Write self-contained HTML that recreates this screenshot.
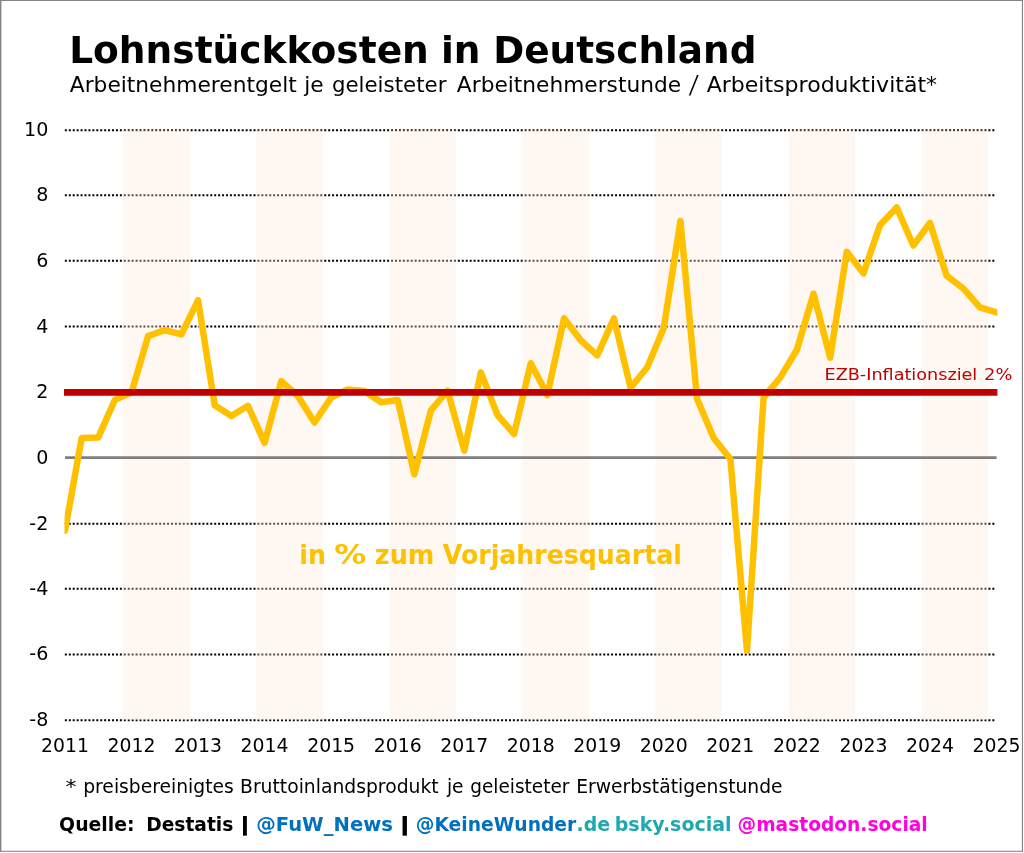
<!DOCTYPE html>
<html lang="de">
<head>
<meta charset="utf-8">
<title>Lohnstückkosten in Deutschland</title>
<style>
html,body{margin:0;padding:0;background:#fff;}
body{width:1024px;height:853px;overflow:hidden;}
svg{display:block;will-change:transform;}
text{font-family:"DejaVu Sans", "Liberation Sans", sans-serif;}
.ax{font-size:18px;fill:#000;}
</style>
</head>
<body>
<svg width="1024" height="853" viewBox="0 0 1024 853">
<rect x="0" y="0" width="1024" height="853" fill="#ffffff"/>
<defs><clipPath id="pc"><rect x="64.5" y="100" width="932.9" height="640"/></clipPath></defs>

<g stroke="#000" stroke-width="2" stroke-dasharray="2 1.93" fill="none">
<line x1="64.85" y1="130.15" x2="996.00" y2="130.15"/>
<line x1="64.85" y1="195.15" x2="996.00" y2="195.15"/>
<line x1="64.85" y1="260.86" x2="996.00" y2="260.86"/>
<line x1="64.85" y1="326.60" x2="996.00" y2="326.60"/>
<line x1="64.85" y1="523.83" x2="996.00" y2="523.83"/>
<line x1="64.85" y1="588.80" x2="996.00" y2="588.80"/>
<line x1="64.85" y1="654.53" x2="996.00" y2="654.53"/>
<line x1="64.85" y1="720.15" x2="996.00" y2="720.15"/>
</g>
<g fill="rgb(255,232,215)" fill-opacity="0.35">
<rect x="123.22" y="130.15" width="66.54" height="590.00"/>
<rect x="256.29" y="130.15" width="66.54" height="590.00"/>
<rect x="389.36" y="130.15" width="66.54" height="590.00"/>
<rect x="522.43" y="130.15" width="66.54" height="590.00"/>
<rect x="655.50" y="130.15" width="66.54" height="590.00"/>
<rect x="788.58" y="130.15" width="66.54" height="590.00"/>
<rect x="921.65" y="130.15" width="66.54" height="590.00"/>
</g>
<line x1="65.00" y1="457.70" x2="996.60" y2="457.70" stroke="#7f7f7f" stroke-width="2.8"/>
<polyline points="65.00,530.70 81.63,438.10 98.27,437.44 114.90,399.91 131.54,392.37 148.17,336.00 164.80,330.10 181.44,334.36 198.07,300.27 214.71,405.16 231.34,415.97 247.97,405.81 264.61,442.85 281.24,381.23 297.88,395.98 314.51,422.53 331.14,397.62 347.78,389.42 364.41,391.06 381.04,402.21 397.68,399.91 414.31,474.32 430.95,410.40 447.58,390.74 464.21,450.72 480.85,372.38 497.48,414.99 514.12,434.00 530.75,363.20 547.38,395.00 564.02,318.30 580.65,340.26 597.29,355.33 613.92,318.30 630.55,387.79 647.19,367.46 663.82,327.80 680.46,220.95 697.09,398.93 713.72,437.94 730.36,458.91 746.99,650.66 763.62,397.29 780.26,377.62 796.89,349.76 813.53,293.71 830.16,357.63 846.79,251.76 863.43,273.39 880.06,224.88 896.70,207.51 913.33,245.53 929.96,222.91 946.60,275.68 963.23,288.47 979.87,307.48 996.50,312.40" fill="none" stroke="#ffc000" stroke-width="6.5" stroke-linejoin="round" stroke-linecap="round" clip-path="url(#pc)"/>
<line x1="64" y1="392.35" x2="997.4" y2="392.35" stroke="#c00000" stroke-width="6.6"/>
<g font-size="19.5" fill="#000">
<text x="24.03" y="136.05" textLength="24.32" lengthAdjust="spacingAndGlyphs">10</text>
<text x="36.19" y="201.05" textLength="12.16" lengthAdjust="spacingAndGlyphs">8</text>
<text x="36.19" y="266.76" textLength="12.16" lengthAdjust="spacingAndGlyphs">6</text>
<text x="36.19" y="332.50" textLength="12.16" lengthAdjust="spacingAndGlyphs">4</text>
<text x="36.19" y="398.25" textLength="12.16" lengthAdjust="spacingAndGlyphs">2</text>
<text x="36.19" y="463.60" textLength="12.16" lengthAdjust="spacingAndGlyphs">0</text>
<text x="29.30" y="529.73" textLength="19.05" lengthAdjust="spacingAndGlyphs">-2</text>
<text x="29.30" y="594.70" textLength="19.05" lengthAdjust="spacingAndGlyphs">-4</text>
<text x="29.30" y="660.43" textLength="19.05" lengthAdjust="spacingAndGlyphs">-6</text>
<text x="29.30" y="726.05" textLength="19.05" lengthAdjust="spacingAndGlyphs">-8</text>
<text x="41.01" y="752" textLength="47.99" lengthAdjust="spacingAndGlyphs">2011</text>
<text x="107.54" y="752" textLength="47.99" lengthAdjust="spacingAndGlyphs">2012</text>
<text x="174.08" y="752" textLength="47.99" lengthAdjust="spacingAndGlyphs">2013</text>
<text x="240.61" y="752" textLength="47.99" lengthAdjust="spacingAndGlyphs">2014</text>
<text x="307.15" y="752" textLength="47.99" lengthAdjust="spacingAndGlyphs">2015</text>
<text x="373.69" y="752" textLength="47.99" lengthAdjust="spacingAndGlyphs">2016</text>
<text x="440.22" y="752" textLength="47.99" lengthAdjust="spacingAndGlyphs">2017</text>
<text x="506.76" y="752" textLength="47.99" lengthAdjust="spacingAndGlyphs">2018</text>
<text x="573.29" y="752" textLength="47.99" lengthAdjust="spacingAndGlyphs">2019</text>
<text x="639.83" y="752" textLength="47.99" lengthAdjust="spacingAndGlyphs">2020</text>
<text x="706.36" y="752" textLength="47.99" lengthAdjust="spacingAndGlyphs">2021</text>
<text x="772.90" y="752" textLength="47.99" lengthAdjust="spacingAndGlyphs">2022</text>
<text x="839.44" y="752" textLength="47.99" lengthAdjust="spacingAndGlyphs">2023</text>
<text x="905.97" y="752" textLength="47.99" lengthAdjust="spacingAndGlyphs">2024</text>
<text x="972.51" y="752" textLength="47.99" lengthAdjust="spacingAndGlyphs">2025</text>
</g>
<text x="69.14" y="62.50" font-size="38" font-weight="bold" fill="#000" textLength="359.73" lengthAdjust="spacingAndGlyphs">Lohnstückkosten</text>
<text x="440.90" y="62.50" font-size="38" font-weight="bold" fill="#000" textLength="39.53" lengthAdjust="spacingAndGlyphs">in</text>
<text x="493.16" y="62.50" font-size="38" font-weight="bold" fill="#000" textLength="263.24" lengthAdjust="spacingAndGlyphs">Deutschland</text>
<text x="69.77" y="92.10" font-size="21.5" fill="#000" textLength="226.97" lengthAdjust="spacingAndGlyphs">Arbeitnehmerentgelt</text>
<text x="304.27" y="92.10" font-size="21.5" fill="#000" textLength="19.43" lengthAdjust="spacingAndGlyphs">je</text>
<text x="331.88" y="92.10" font-size="21.5" fill="#000" textLength="114.53" lengthAdjust="spacingAndGlyphs">geleisteter</text>
<text x="456.87" y="92.10" font-size="21.5" fill="#000" textLength="224.22" lengthAdjust="spacingAndGlyphs">Arbeitnehmerstunde</text>
<text x="706.67" y="92.10" font-size="21.5" fill="#000" textLength="230.43" lengthAdjust="spacingAndGlyphs">Arbeitsproduktivität*</text>
<text font-weight="200" x="688.30" y="93.00" font-size="25" fill="#000" textLength="10.96" lengthAdjust="spacingAndGlyphs">/</text>
<text x="824.55" y="380.40" font-size="16" fill="#c00000" textLength="152.73" lengthAdjust="spacingAndGlyphs">EZB-Inflationsziel</text>
<text x="984.14" y="380.40" font-size="16" fill="#c00000" textLength="28.34" lengthAdjust="spacingAndGlyphs">2%</text>
<text x="299.37" y="563.90" font-size="26.2" font-weight="bold" fill="#ffc000" textLength="26.58" lengthAdjust="spacingAndGlyphs">in</text>
<text x="334.24" y="563.90" font-size="26.2" font-weight="bold" fill="#ffc000" textLength="31.93" lengthAdjust="spacingAndGlyphs">%</text>
<text x="374.81" y="563.90" font-size="26.2" font-weight="bold" fill="#ffc000" textLength="59.60" lengthAdjust="spacingAndGlyphs">zum</text>
<text x="442.78" y="563.90" font-size="26.2" font-weight="bold" fill="#ffc000" textLength="239.11" lengthAdjust="spacingAndGlyphs">Vorjahresquartal</text>
<text x="65.59" y="792.60" font-size="19.2" fill="#000" textLength="10.92" lengthAdjust="spacingAndGlyphs">*</text>
<text x="83.20" y="792.60" font-size="19.2" fill="#000" textLength="150.64" lengthAdjust="spacingAndGlyphs">preisbereinigtes</text>
<text x="240.07" y="792.60" font-size="19.2" fill="#000" textLength="198.55" lengthAdjust="spacingAndGlyphs">Bruttoinlandsprodukt</text>
<text x="446.92" y="792.60" font-size="19.2" fill="#000" textLength="16.69" lengthAdjust="spacingAndGlyphs">je</text>
<text x="470.24" y="792.60" font-size="19.2" fill="#000" textLength="99.23" lengthAdjust="spacingAndGlyphs">geleisteter</text>
<text x="576.28" y="792.60" font-size="19.2" fill="#000" textLength="206.29" lengthAdjust="spacingAndGlyphs">Erwerbstätigenstunde</text>
<text x="59.12" y="831.30" font-size="18.8" font-weight="bold" fill="#000" textLength="75.46" lengthAdjust="spacingAndGlyphs">Quelle:</text>
<text x="146.26" y="831.30" font-size="18.8" font-weight="bold" fill="#000" textLength="87.09" lengthAdjust="spacingAndGlyphs">Destatis</text>
<text x="238.53" y="831.30" font-size="18.8" font-weight="bold" fill="#000" textLength="12.89" lengthAdjust="spacingAndGlyphs">|</text>
<text x="256.19" y="831.30" font-size="18.8" font-weight="bold" fill="#0070c0" textLength="136.77" lengthAdjust="spacingAndGlyphs">@FuW_News</text>
<text x="397.47" y="831.30" font-size="18.8" font-weight="bold" fill="#000" textLength="14.50" lengthAdjust="spacingAndGlyphs">|</text>
<text x="415.75" y="831.30" font-size="18.8" font-weight="bold" fill="#0070c0" textLength="160.49" lengthAdjust="spacingAndGlyphs">@KeineWunder</text>
<text x="576.50" y="831.30" font-size="18.8" font-weight="bold" fill="#1fa8b0" textLength="33.51" lengthAdjust="spacingAndGlyphs">.de</text>
<text x="614.73" y="831.30" font-size="18.8" font-weight="bold" fill="#1fa8b0" textLength="116.88" lengthAdjust="spacingAndGlyphs">bsky.social</text>
<text x="737.51" y="831.30" font-size="18.8" font-weight="bold" fill="#ff00e0" textLength="190.24" lengthAdjust="spacingAndGlyphs">@mastodon.social</text>
<g fill="#848484"><rect x="0" y="0" width="1023" height="1"/><rect x="0" y="0" width="1.4" height="851.8"/><rect x="1021.9" y="0" width="1.1" height="851.8"/><rect x="0" y="850.75" width="1023" height="1.05"/></g>
</svg>
</body>
</html>
